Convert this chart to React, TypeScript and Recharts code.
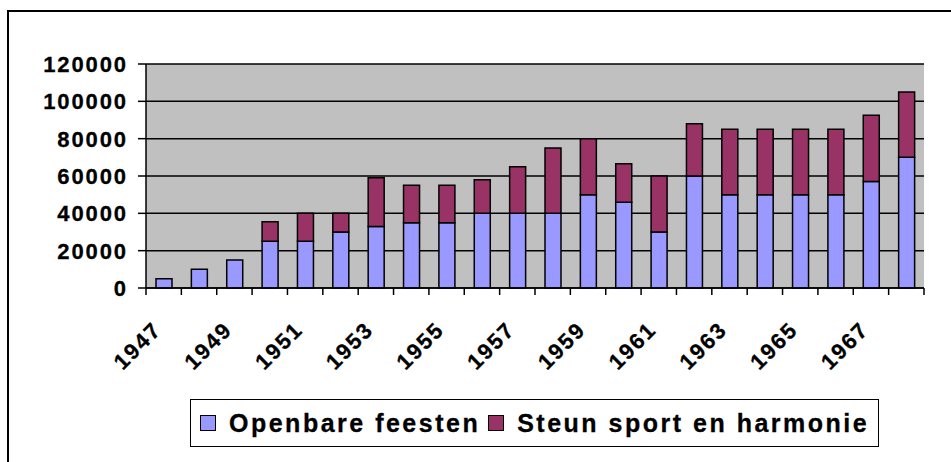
import { BarChart, Bar, XAxis, YAxis, CartesianGrid, Legend } from 'recharts'

const years = [
  '1947', '1948', '1949', '1950', '1951', '1952', '1953', '1954', '1955', '1956', '1957',
  '1958', '1959', '1960', '1961', '1962', '1963', '1964', '1965', '1966', '1967', '1968',
]
const openbareFeesten = [
  5000, 10000, 15000, 25000, 25000, 30000, 33000, 35000, 35000, 40000, 40000,
  40000, 50000, 46000, 30000, 60000, 50000, 50000, 50000, 50000, 57000, 70000,
]
const steunSport = [
  0, 0, 0, 10500, 15000, 10000, 26000, 20000, 20000, 18000, 25000,
  35000, 30000, 20500, 30000, 28000, 35000, 35000, 35000, 35000, 35500, 35000,
]
const yTicks = [0, 20000, 40000, 60000, 80000, 100000, 120000]

const W = 951
const H = 462
const PLOT_LEFT = 146
const PLOT_RIGHT = 924
const PLOT_TOP = 64
const PLOT_BOTTOM = 288
const BAND = (PLOT_RIGHT - PLOT_LEFT) / years.length

const FONT = 'Arial, "Liberation Sans", sans-serif'
const BLUE = '#9999FF'
const MAROON = '#993366'

const data = years.map((y, i) => ({
  year: y,
  open: openbareFeesten[i],
  steun: steunSport[i],
}))

function YTick({ x, y, payload }: any) {
  return (
    <text
      x={x - 10}
      y={y}
      dy="0.36em"
      textAnchor="end"
      fontFamily={FONT}
      fontWeight="bold"
      fontSize={22}
      letterSpacing={1.9}
      fill="#000"
      stroke="#000"
      strokeWidth={0.3}
    >
      {payload.value}
    </text>
  )
}

function XTick({ x, y, payload, index }: any) {
  const left = x - BAND / 2
  return (
    <g>
      <line x1={left} x2={left} y1={y} y2={y + 7} stroke="#000" strokeWidth={1.5} />
      {index === years.length - 1 && (
        <line x1={x + BAND / 2} x2={x + BAND / 2} y1={y} y2={y + 7} stroke="#000" strokeWidth={1.5} />
      )}
      {index % 2 === 0 && (
        <text
          transform={`translate(${x - 1},${y + 43}) rotate(-45)`}
          textAnchor="end"
          fontFamily={FONT}
          fontWeight="bold"
          fontSize={22}
          letterSpacing={1.9}
          fill="#000"
          stroke="#000"
          strokeWidth={0.3}
        >
          {payload.value}
        </text>
      )}
    </g>
  )
}

function LegendBox() {
  const item = (color: string, label: string, ml: number) => (
    <div style={{ display: 'flex', alignItems: 'center', marginLeft: ml }}>
      <div
        style={{
          width: 14,
          height: 14,
          background: color,
          border: '1.5px solid #000',
          marginRight: 13,
        }}
      />
      <span
        style={{
          fontFamily: FONT,
          fontWeight: 'bold',
          fontSize: 25,
          letterSpacing: 2.5,
          color: '#000',
          WebkitTextStroke: '0.3px #000',
        }}
      >
        {label}
      </span>
    </div>
  )
  return (
    <div
      style={{
        boxSizing: 'border-box',
        width: 689,
        height: 48,
        border: '1.5px solid #000',
        background: '#fff',
        display: 'flex',
        alignItems: 'center',
      }}
    >
      {item(BLUE, 'Openbare feesten', 9)}
      {item(MAROON, 'Steun sport en harmonie', 8)}
    </div>
  )
}

export default function App() {
  return (
    <div style={{ position: 'fixed', left: 0, top: 0, width: W, height: H, overflow: 'hidden', background: '#fff' }}>
      <div
        style={{
          position: 'absolute',
          left: 7,
          top: 10,
          width: W,
          height: H,
          borderLeft: '2px solid #000',
          borderTop: '2px solid #000',
        }}
      />
      <div style={{ position: 'absolute', left: 0, top: 0 }}>
        <BarChart
          width={W}
          height={H}
          data={data}
          margin={{ top: PLOT_TOP, right: W - PLOT_RIGHT, left: 0, bottom: 0 }}
          barSize={16}
        >
          <CartesianGrid vertical={false} fill="#C0C0C0" stroke="#000" strokeWidth={1.5} fillOpacity={1} />
          <XAxis
            dataKey="year"
            interval={0}
            height={H - PLOT_BOTTOM}
            tickSize={0}
            tickMargin={0}
            tickLine={false}
            axisLine={{ stroke: '#000', strokeWidth: 1.5 }}
            tick={<XTick />}
          />
          <YAxis
            width={PLOT_LEFT}
            domain={[0, 120000]}
            ticks={yTicks}
            tickSize={8}
            tickMargin={0}
            tickLine={{ stroke: '#000', strokeWidth: 1.5 }}
            axisLine={{ stroke: '#000', strokeWidth: 1.5 }}
            tick={<YTick />}
          />
          <Legend
            layout="horizontal"
            verticalAlign="middle"
            wrapperStyle={{ left: 190, top: 399, width: 689, height: 48 }}
            content={() => <LegendBox />}
          />
          <Bar dataKey="open" name="Openbare feesten" stackId="a" fill={BLUE} stroke="#000" strokeWidth={1.5} isAnimationActive={false} />
          <Bar dataKey="steun" name="Steun sport en harmonie" stackId="a" fill={MAROON} stroke="#000" strokeWidth={1.5} isAnimationActive={false} />
        </BarChart>
      </div>
    </div>
  )
}
